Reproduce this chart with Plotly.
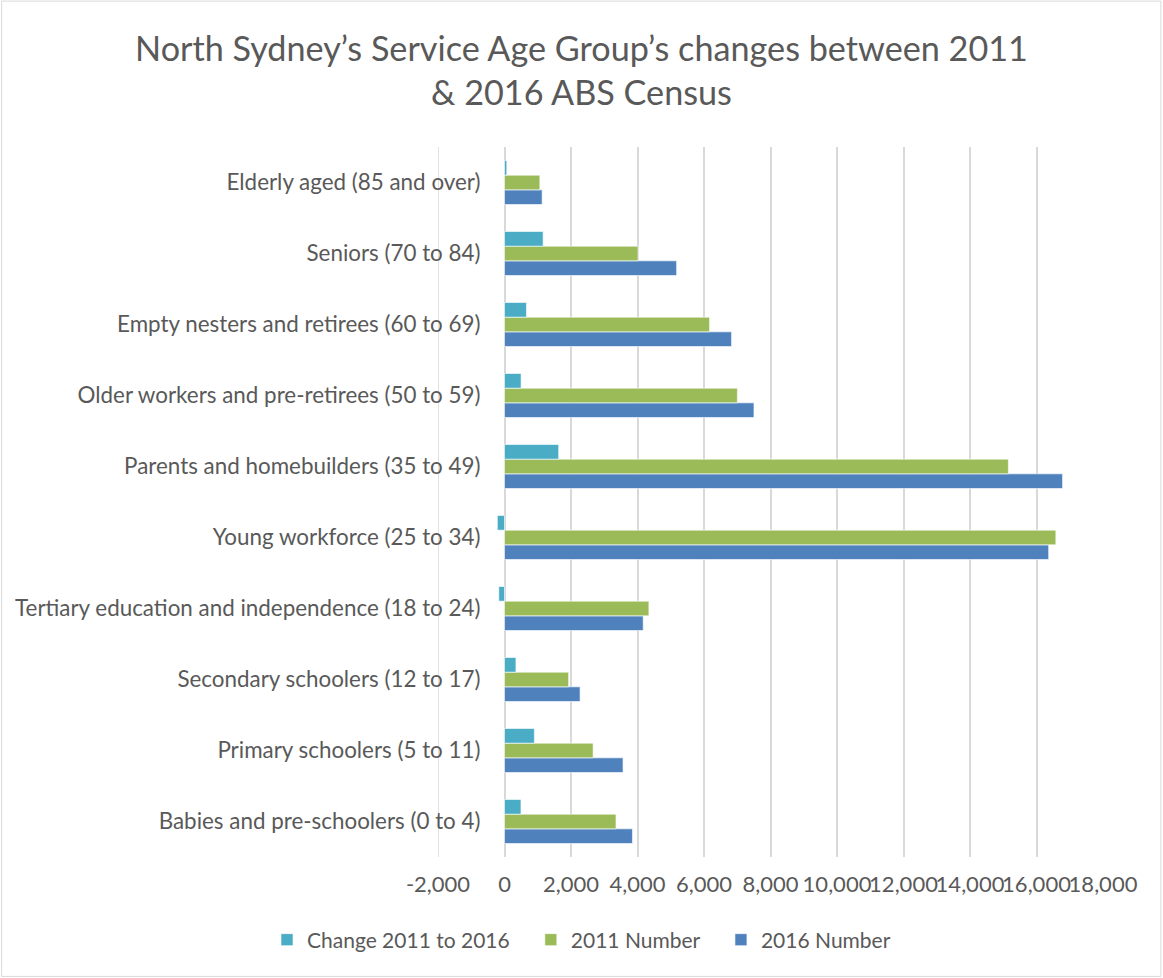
import plotly.graph_objects as go

categories = [
    "Babies and pre-schoolers (0 to 4)",
    "Primary schoolers (5 to 11)",
    "Secondary schoolers (12 to 17)",
    "Tertiary education and independence (18 to 24)",
    "Young workforce (25 to 34)",
    "Parents and homebuilders (35 to 49)",
    "Older workers and pre-retirees (50 to 59)",
    "Empty nesters and retirees (60 to 69)",
    "Seniors (70 to 84)",
    "Elderly aged (85 and over)",
]
number_2016 = [3848, 3565, 2273, 4171, 16366, 16784, 7503, 6829, 5177, 1132]
number_2011 = [3353, 2666, 1929, 4343, 16582, 15154, 7004, 6168, 4015, 1063]
change_2011_2016 = [495, 899, 344, -172, -216, 1630, 499, 661, 1162, 69]
x_ticks = [-2000, 0, 2000, 4000, 6000, 8000, 10000, 12000, 14000, 16000, 18000]
x_tick_labels = ["-2,000", "0", "2,000", "4,000", "6,000", "8,000", "10,000",
                 "12,000", "14,000", "16,000", "18,000"]

W, H = 1163, 978
L, R, T, B = 437.5, W - 1103.5, 146.5, H - 857
FONT = "Lato"
GREY = "#595959"
GRID = "#D9D9D9"
PAD = "\u00a0\u00a0\u00a0"

fig = go.Figure()
fig.add_trace(go.Bar(y=categories, x=number_2016, orientation="h", name="2016 Number",
                     marker=dict(color="#4F81BD", line=dict(color="#FFFFFF", width=0.6))))
fig.add_trace(go.Bar(y=categories, x=number_2011, orientation="h", name="2011 Number" + PAD,
                     marker=dict(color="#9BBB59", line=dict(color="#FFFFFF", width=0.6))))
fig.add_trace(go.Bar(y=categories, x=change_2011_2016, orientation="h",
                     name="Change 2011 to 2016" + PAD,
                     marker=dict(color="#4BACC6", line=dict(color="#FFFFFF", width=0.6))))

pw = W - L - R
ph = H - T - B
xmin, xmax = x_ticks[0], x_ticks[-1]
zero_pos = (0 - xmin) / (xmax - xmin)

fig.update_layout(
    width=W, height=H,
    margin=dict(l=L, r=R, t=T, b=B, autoexpand=False),
    paper_bgcolor="white", plot_bgcolor="white",
    barmode="group", bargap=0.38, bargroupgap=0,
    font=dict(family=FONT, color=GREY, size=22),
    title=dict(
        text="North Sydney\u2019s Service Age Group\u2019s changes between 2011<br>& 2016 ABS Census",
        x=0.5, xanchor="center", xref="container",
        y=1 - 61 / H, yanchor="middle", yref="container",
        font=dict(family=FONT, size=34.2, color=GREY, weight=400),
    ),
    legend=dict(
        orientation="h", traceorder="reversed",
        x=0.5, xanchor="center", xref="container",
        y=1 - 940 / H, yanchor="middle", yref="container",
        font=dict(family=FONT, size=21, color=GREY),
        itemwidth=30,
    ),
    xaxis=dict(
        range=[xmin, xmax], tickvals=x_ticks, ticktext=x_tick_labels, tickangle=0,
        showgrid=True, gridcolor=GRID, gridwidth=1.5,
        zeroline=False, showline=False, ticks="",
        ticklabelstandoff=12,
        tickfont=dict(family=FONT, size=22, color=GREY),
        automargin=False,
    ),
    yaxis=dict(
        type="category", categoryorder="array", categoryarray=categories,
        range=[-0.5, 9.5],
        anchor="free", position=zero_pos,
        showgrid=False, zeroline=False, showline=False, ticks="",
        ticklabelstandoff=24,
        tickfont=dict(family=FONT, size=22.4, color=GREY),
        automargin=False,
    ),
    shapes=[
        dict(
            type="rect", xref="paper", yref="paper",
            x0=(0.5 - L) / pw, x1=(W - 1.5 - L) / pw,
            y0=-(B - 1.5) / ph, y1=1 + (T - 0.5) / ph,
            line=dict(color=GRID, width=1), fillcolor="rgba(0,0,0,0)",
            layer="below",
        ),
        dict(
            type="line", xref="x", yref="paper",
            x0=x_ticks[0], x1=x_ticks[0], y0=0, y1=1,
            line=dict(color=GRID, width=1.5), layer="below",
        ),
    ],
)

fig.write_html("out.html",
               config={"displayModeBar": False},
               post_script="document.body.style.margin='0';document.body.style.overflow='hidden';")
